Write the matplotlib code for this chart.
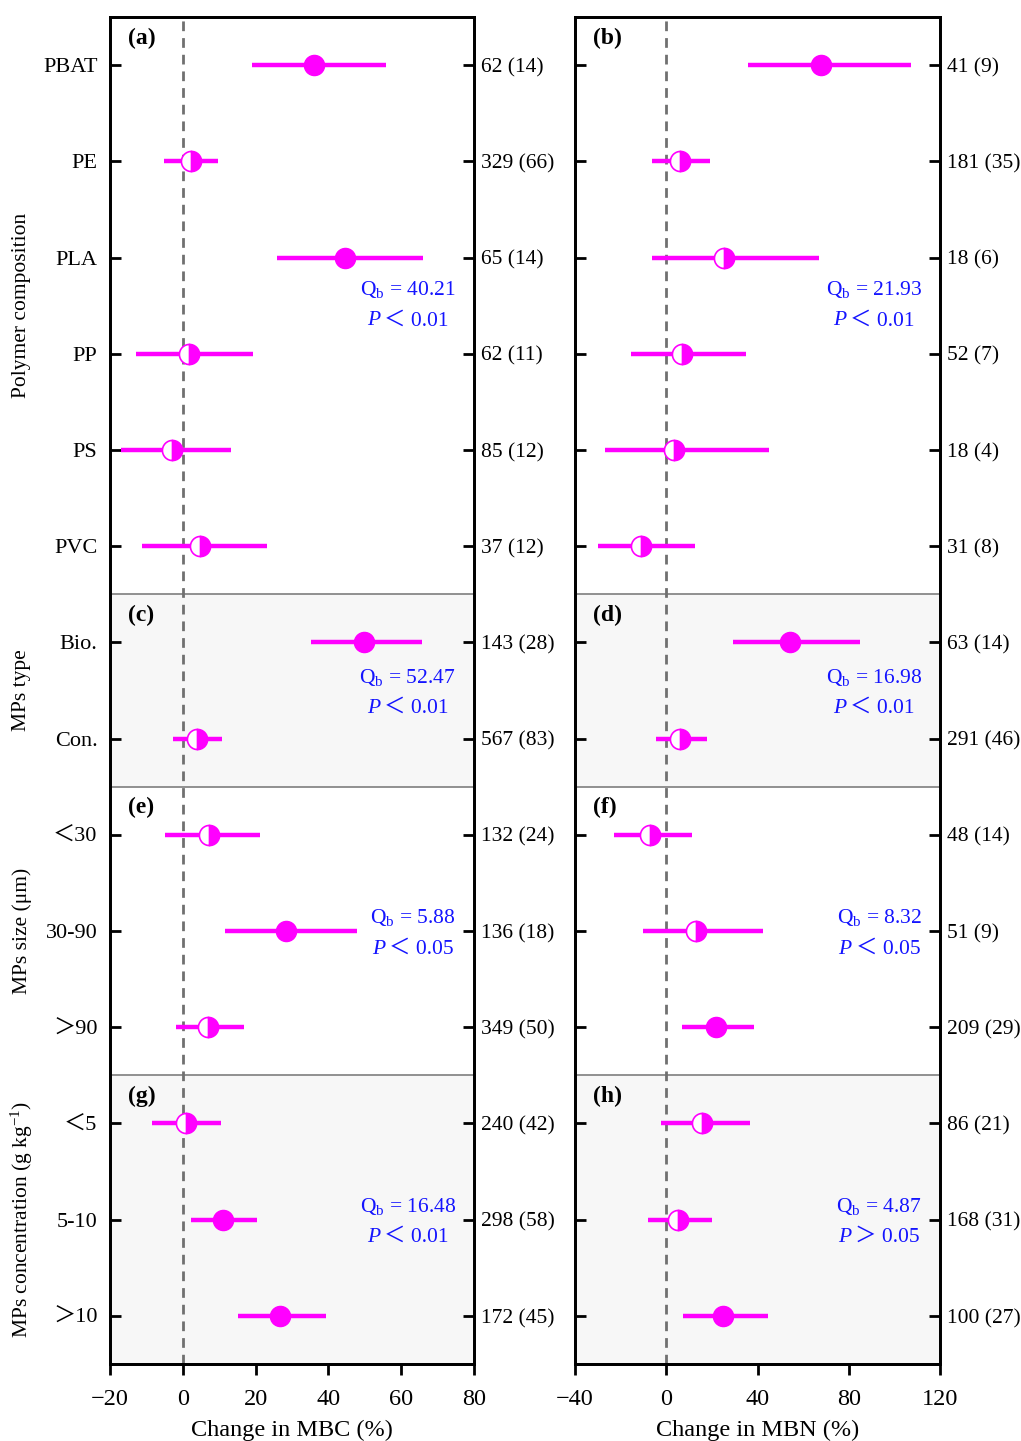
import matplotlib
matplotlib.use("Agg")
import matplotlib.pyplot as plt
import matplotlib.transforms as mtransforms
from matplotlib.offsetbox import TextArea, HPacker, VPacker, AnnotationBbox

plt.rcParams["font.family"] = ["Liberation Serif", "Noto Sans CJK SC", "DejaVu Serif"]
plt.rcParams["mathtext.fontset"] = "custom"
plt.rcParams["mathtext.rm"] = "Liberation Serif"
plt.rcParams["mathtext.it"] = "Liberation Serif:italic"
plt.rcParams["axes.unicode_minus"] = True

MAG = "#ff00ff"; QCOL = "#1414ff"; SHADE = "#f7f7f7"; DIV = "#888888"

categories = ["PBAT", "PE", "PLA", "PP", "PS", "PVC", "Bio.", "Con.",
              "＜30", "30-90", "＞90", "＜5", "5-10", "＞10"]
groups = ["Polymer composition", "MPs type", "MPs size (μm)",
          "MPs concentration (g kg$^{-1}$)"]
group_rows = [(0, 5), (6, 7), (8, 10), (11, 13)]

mbc_mean = [36.1, 2.2, 44.6, 1.7, -2.9, 4.7, 49.8, 3.9, 7.2, 28.4, 6.9, 0.9, 11.0, 26.7]
mbc_lo = [18.9, -5.1, 25.9, -12.9, -17.0, -11.3, 35.2, -2.7, -4.9, 11.6, -1.9, -8.5, 2.3, 15.2]
mbc_hi = [55.8, 9.6, 66.0, 19.3, 13.2, 23.2, 65.7, 10.8, 21.2, 47.9, 16.8, 10.5, 20.4, 39.3]
mbc_n = ["62 (14)", "329 (66)", "65 (14)", "62 (11)", "85 (12)", "37 (12)", "143 (28)",
         "567 (83)", "132 (24)", "136 (18)", "349 (50)", "240 (42)", "298 (58)", "172 (45)"]
mbc_qb = ["40.21", "52.47", "5.88", "16.48"]
mbc_p = ["＜ 0.01", "＜ 0.01", "＜ 0.05", "＜ 0.01"]

mbn_mean = [67.9, 6.1, 25.4, 7.0, 3.5, -11.0, 54.3, 6.1, -7.0, 13.1, 21.8, 15.8, 5.1, 24.7]
mbn_lo = [35.9, -6.1, -6.1, -15.3, -26.7, -29.8, 29.3, -4.4, -22.8, -10.4, 6.7, -2.2, -8.2, 7.3]
mbn_hi = [107.3, 19.3, 67.0, 35.0, 45.1, 12.7, 85.0, 18.0, 11.5, 42.5, 38.4, 36.5, 20.1, 44.7]
mbn_n = ["41 (9)", "181 (35)", "18 (6)", "52 (7)", "18 (4)", "31 (8)", "63 (14)",
         "291 (46)", "48 (14)", "51 (9)", "209 (29)", "86 (21)", "168 (31)", "100 (27)"]
mbn_qb = ["21.93", "16.98", "8.32", "4.87"]
mbn_p = ["＜ 0.01", "＜ 0.01", "＜ 0.05", "＞ 0.05"]

FS = 16
fig = plt.figure(figsize=(10.21, 14.41), dpi=100)
axL = fig.add_axes([110 / 1021, 1 - 1364 / 1441, 364 / 1021, 1347 / 1441])
axR = fig.add_axes([575 / 1021, 1 - 1364 / 1441, 365 / 1021, 1347 / 1441])


def qb_box(qb, pv):
    # two lines, centred on each other, block right-aligned in the panel
    tp = dict(color=QCOL, fontsize=15.5)
    l1 = TextArea(r"Q$_\mathrm{b}$ = " + qb, textprops=tp)
    l2 = HPacker(children=[TextArea("P", textprops=dict(tp, fontstyle="italic")),
                           TextArea(pv, textprops=tp)],
                 align="baseline", pad=0, sep=3)
    return VPacker(children=[l1, l2], align="center", pad=0, sep=8)


def panel(ax, mean, lo, hi, counts, qb, pv, xlim, xticks, xlabel, letters, show_cats):
    rows = list(range(len(categories)))
    # shaded groups (c/d and g/h) and dividers
    for k, (a, b) in enumerate(group_rows):
        if k % 2 == 1:
            ax.axhspan(a - 0.5, b + 0.5, color=SHADE, zorder=0, lw=0)
        if k > 0:
            ax.axhline(a - 0.5, color=DIV, lw=1.3, zorder=1)
    ax.axvline(0, color="#707070", lw=2, ls=(0, (3.5, 2.5)), zorder=2)

    for i in rows:
        ax.plot([lo[i], hi[i]], [i, i], color=MAG, lw=3.2, solid_capstyle="butt", zorder=3)
        sig = lo[i] > 0 or hi[i] < 0
        if sig:
            ax.plot(mean[i], i, "o", ms=14.5, color=MAG, mec=MAG, zorder=4)
        else:
            ax.plot(mean[i], i, "o", ms=14.5, fillstyle="right", color=MAG,
                    markerfacecoloralt="white", mec=MAG, mew=1.2, zorder=4)

    ax.set_xlim(*xlim)
    ax.set_ylim(len(categories) - 0.5, -0.5)
    ax.set_xticks(xticks)
    ax.set_xlabel(xlabel, fontsize=17.5, labelpad=7)
    ax.set_yticks(rows)
    ax.set_yticklabels(categories if show_cats else [])
    ax.tick_params(axis="y", direction="in", length=8, width=2, labelsize=FS, pad=9)
    ax.tick_params(axis="x", direction="out", length=8, width=2, labelsize=17.5, pad=10)
    for s in ax.spines.values():
        s.set_linewidth(2)

    tw = ax.twinx()
    tw.set_ylim(ax.get_ylim())
    tw.set_yticks(rows)
    tw.set_yticklabels(counts)
    tw.tick_params(axis="y", direction="in", length=8, width=2, labelsize=15.5, pad=5)
    for s in tw.spines.values():
        s.set_linewidth(2)

    tr = mtransforms.blended_transform_factory(ax.transAxes, ax.transData)
    q_rows = [2.49, 6.52, 9.02, 12.02]
    for k, (a, b) in enumerate(group_rows):
        ax.text(0.05, a - 0.28, f"({letters[k]})", transform=tr, fontsize=17,
                fontweight="bold", ha="left", va="center", zorder=5)
        ab = AnnotationBbox(qb_box(qb[k], pv[k]), (0.95, q_rows[k]), xycoords=tr,
                            box_alignment=(1.0, 0.5), frameon=False, pad=0, zorder=5)
        ax.add_artist(ab)
        if show_cats:
            ax.text(-0.242, (a + b) / 2, groups[k], transform=tr, rotation=90,
                    fontsize=15.5, ha="center", va="center")


panel(axL, mbc_mean, mbc_lo, mbc_hi, mbc_n, mbc_qb, mbc_p, (-20, 80),
      [-20, 0, 20, 40, 60, 80], "Change in MBC (%)", "aceg", True)
panel(axR, mbn_mean, mbn_lo, mbn_hi, mbn_n, mbn_qb, mbn_p, (-40, 120),
      [-40, 0, 40, 80, 120], "Change in MBN (%)", "bdfh", False)

fig.savefig("out.png", dpi=100, facecolor="white")
